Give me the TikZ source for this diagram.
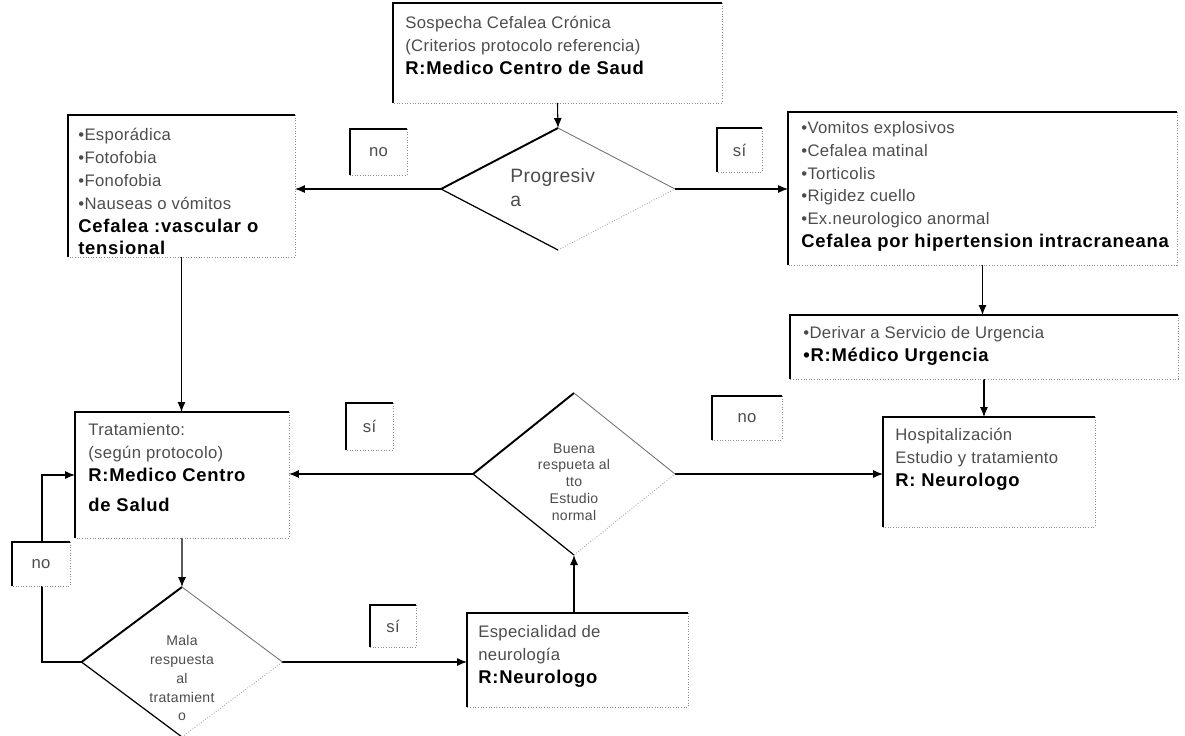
\documentclass[tikz,border=0pt]{standalone}
\usepackage{fontspec}
\setmainfont{Liberation Sans}
\newfontfamily\regfont[LetterSpace=2]{Liberation Sans}
\newfontfamily\bldfont[LetterSpace=4]{Liberation Sans}
\usetikzlibrary{shapes.geometric,arrows.meta}
\newcommand\rb[1]{{\bldfont\bfseries\fontsize{10.5}{13}\selectfont\color{black}#1}}

\begin{document}
\begin{tikzpicture}[x=0.02cm, y=-0.02cm,
    frame/.style={rectangle, anchor=north west, inner sep=0pt, outer sep=0pt},
    tag/.style={frame, fill=white, text=black!70, font=\regfont\fontsize{9.5}{11}\selectfont},
    txt/.style={anchor=north west, inner sep=0pt, align=left, text=black!70, font=\regfont\fontsize{9.5}{13}\selectfont},
    decision/.style={diamond, inner sep=0pt, outer sep=0pt},
    dtxt/.style={inner sep=0pt, align=center, text=black!70},
    link/.style={-{Latex[length=2mm,width=1.6mm]}, line width=0.6pt}]
  \useasboundingbox (0,0) rectangle (1185,735);

  \node [frame, minimum width=6.58cm, minimum height=2cm] (sosp) at (393,3) {};
  \node [frame, minimum width=4.54cm, minimum height=2.84cm] (vasc) at (68,115) {};
  \node [frame, minimum width=7.78cm, minimum height=3.06cm] (hiper) at (788,112) {};
  \node [frame, minimum width=7.76cm, minimum height=1.28cm] (deriv) at (790,315) {};
  \node [frame, minimum width=4.24cm, minimum height=2.2cm] (hosp) at (883,417) {};
  \node [frame, minimum width=4.28cm, minimum height=2.52cm] (trat) at (75,412) {};
  \node [frame, minimum width=4.42cm, minimum height=1.88cm] (espec) at (467,613) {};

  \node [decision, minimum width=4.68cm, minimum height=2.44cm] (prog) at (558,189) {};
  \node [decision, minimum width=4.04cm, minimum height=3.24cm] (buena) at (574,474) {};
  \node [decision, minimum width=4.02cm, minimum height=3cm] (mala) at (182,662) {};

  \node [txt] (sosptxt) at ([shift={(12,13)}]sosp.north west)
    {Sospecha Cefalea Crónica\\(Criterios protocolo referencia)\\\rb{R:Medico Centro de Saud}};
  \node [txt] (vasctxt) at ([shift={(10,13)}]vasc.north west)
    {•Esporádica\\•Fotofobia\\•Fonofobia\\•Nauseas o vómitos\\\rb{Cefalea :vascular o}\\\rb{tensional}};
  \node [txt] (hipertxt) at ([shift={(13,9)}]hiper.north west)
    {•Vomitos explosivos\\•Cefalea matinal\\•Torticolis\\•Rigidez cuello\\•Ex.neurologico anormal\\\rb{Cefalea por hipertension intracraneana}};
  \node [txt] (derivtxt) at ([shift={(13,11)}]deriv.north west)
    {•Derivar a Servicio de Urgencia\\\rb{•R:Médico Urgencia}};
  \node [txt] (hosptxt) at ([shift={(12,11)}]hosp.north west)
    {Hospitalización\\Estudio y tratamiento\\\rb{R: Neurologo}};
  \node [txt] (trattxt) at ([shift={(13,11)}]trat.north west)
    {Tratamiento:\\(según protocolo)\\\rb{R:Medico Centro}\\[4pt]\rb{de Salud}};
  \node [txt] (espectxt) at ([shift={(11,12)}]espec.north west)
    {Especialidad de\\neurología\\\rb{R:Neurologo}};

  \node [txt, font=\regfont\fontsize{11}{14}\selectfont] (progtxt) at ([shift={(-48,-21)}]prog.center) {Progresiv\\a};
  \node [dtxt, font=\regfont\fontsize{8}{9.6}\selectfont] (buenatxt) at ([shift={(0,8)}]buena.center)
    {Buena\\respueta al\\tto\\Estudio\\normal};
  \node [dtxt, font=\regfont\fontsize{8}{10.8}\selectfont] (malatxt) at ([shift={(0,16)}]mala.center)
    {Mala\\respuesta\\al\\tratamient\\o};

  \draw [link] (sosp.south) -- (prog.north);
  \draw [link] (prog.west) -- (prog.west -| vasc.east);
  \draw [link] (prog.east) -- (prog.east -| hiper.west);
  \draw [link] (hiper.south) -- (hiper.south |- deriv.north);
  \draw [link] (deriv.south) -- (deriv.south |- hosp.north);
  \draw [link] (vasc.south) -- (vasc.south |- trat.north);
  \draw [link] (trat.south) -- (mala.north);
  \draw [link] (mala.east) -- (mala.east -| espec.west);
  \draw [link] (buena.south |- espec.north) -- (buena.south);
  \draw [link] (buena.east) -- (buena.east -| hosp.west);
  \draw [link] (buena.west) -- (buena.west -| trat.east);
  \coordinate (back) at (42,662);
  \draw [link] (mala.west) -- (back) |- (trat.west);

  \node [tag, minimum width=1.14cm, minimum height=0.92cm] (no1) at (350,129) {no};
  \node [tag, minimum width=0.9cm, minimum height=0.88cm] (si1) at (717,128) {sí};
  \node [tag, minimum width=0.94cm, minimum height=0.94cm] (si2) at (346,403) {sí};
  \node [tag, minimum width=1.4cm, minimum height=0.88cm] (no2) at (712,396) {no};
  \node [tag, minimum width=1.16cm, minimum height=0.88cm] (no3) at (12,542) {no};
  \node [tag, minimum width=0.92cm, minimum height=0.84cm] (si3) at (370,605) {sí};

  \foreach \n in {sosp,vasc,hiper,deriv,hosp,trat,espec,no1,si1,si2,no2,no3,si3} {
    \draw [black!45, densely dotted, line width=0.5pt] (\n.north east) -- (\n.south east) -- (\n.south west);
    \draw [line width=1.2pt] (\n.south west) -- (\n.north west) -- (\n.north east);
  }
  \foreach \d in {prog,buena,mala} {
    \draw [line width=1.1pt] (\d.west) -- (\d.north);
    \draw [black!55, line width=0.5pt] (\d.north) -- (\d.east);
    \draw [line width=0.7pt] (\d.west) -- (\d.south);
    \draw [black!35, densely dotted, line width=0.5pt] (\d.south) -- (\d.east);
  }
\end{tikzpicture}
\end{document}
